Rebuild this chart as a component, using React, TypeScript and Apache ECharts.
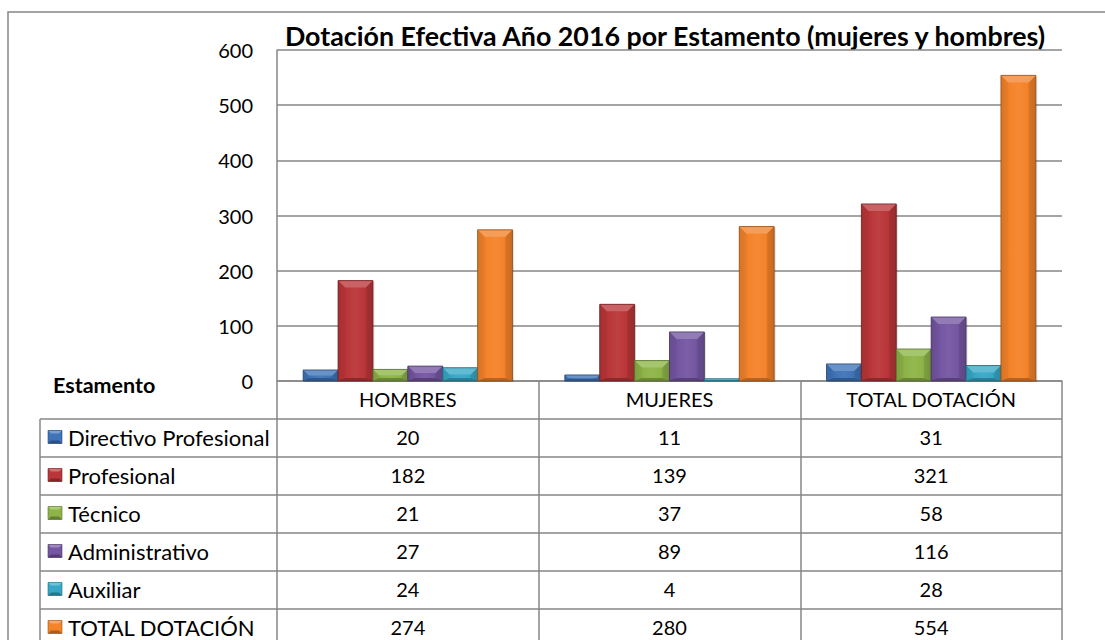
import React, { useEffect, useRef } from "react";
import * as echarts from "echarts";

const categories = ["HOMBRES", "MUJERES", "TOTAL DOTACIÓN"];
const seriesNames = ["Directivo Profesional", "Profesional", "Técnico", "Administrativo", "Auxiliar", "TOTAL DOTACIÓN"];
const directivoProfesional = [20, 11, 31];
const profesional = [182, 139, 321];
const tecnico = [21, 37, 58];
const administrativo = [27, 89, 116];
const auxiliar = [24, 4, 28];
const totalDotacion = [274, 280, 554];
const seriesValues = [directivoProfesional, profesional, tecnico, administrativo, auxiliar, totalDotacion];
const seriesColors = ["#3F74B8", "#BA3638", "#8DB447", "#7556A2", "#36A8C6", "#F4832A"];
const titleText = "Dotación Efectiva Año 2016 por Estamento (mujeres y hombres)";
const tableHeader = "Estamento";

const FONT = "Lato, 'Open Sans', sans-serif";
const GRID_COLOR = "#878787";

function shade(hex: string, f: number): string {
  const n = parseInt(hex.slice(1), 16);
  let r = (n >> 16) & 255, g = (n >> 8) & 255, b = n & 255;
  if (f < 0) {
    r = Math.round(r * (1 + f)); g = Math.round(g * (1 + f)); b = Math.round(b * (1 + f));
  } else {
    r = Math.round(r + (255 - r) * f); g = Math.round(g + (255 - g) * f); b = Math.round(b + (255 - b) * f);
  }
  return `rgb(${r},${g},${b})`;
}

function bodyGradient(c: string) {
  return new echarts.graphic.LinearGradient(0, 0, 1, 0, [
    { offset: 0, color: shade(c, -0.15) },
    { offset: 0.25, color: shade(c, 0) },
    { offset: 0.5, color: shade(c, 0.05) },
    { offset: 0.75, color: shade(c, 0) },
    { offset: 1, color: shade(c, -0.18) },
  ]);
}

const N_SERIES = seriesNames.length;

function makeRenderItem(si: number) {
  return (params: any, api: any) => {
    const cat = api.value(0);
    const val = api.value(1);
    const top = api.coord([cat, val]);
    const base = api.coord([cat, 0]);
    const band = api.size([1, 0])[0];
    const groupW = band * 0.8;
    const bw = groupW / N_SERIES;
    const x0 = top[0] - groupW / 2 + si * bw;
    const x1 = x0 + bw;
    const y0 = top[1];
    const y1 = base[1];
    const h = y1 - y0;
    const c = seriesColors[si];
    const bv = Math.min(7, h / 2, bw / 2);
    const bb = Math.min(3, h / 3);
    const children: any[] = [
      {
        type: "rect",
        shape: { x: x0 + 1.5, y: y0 + 1, width: bw, height: h },
        style: { fill: "rgba(0,0,0,0.12)" },
      },
      {
        type: "rect",
        shape: { x: x0, y: y0, width: bw, height: h },
        style: { fill: bodyGradient(c) },
      },
      {
        type: "polygon",
        shape: { points: [[x0, y0], [x1, y0], [x1 - bv, y0 + bv], [x0 + bv, y0 + bv]] },
        style: { fill: shade(c, 0.22) },
      },
      {
        type: "polygon",
        shape: { points: [[x0, y0], [x0 + bv, y0 + bv], [x0 + bv, y1 - bb], [x0, y1]] },
        style: { fill: shade(c, -0.08), opacity: 0.5 },
      },
      {
        type: "polygon",
        shape: { points: [[x1, y0], [x1 - bv, y0 + bv], [x1 - bv, y1 - bb], [x1, y1]] },
        style: { fill: shade(c, -0.2), opacity: 0.5 },
      },
      {
        type: "polygon",
        shape: { points: [[x0, y1], [x0 + bv, y1 - bb], [x1 - bv, y1 - bb], [x1, y1]] },
        style: { fill: shade(c, -0.25) },
      },
      {
        type: "rect",
        shape: { x: x0, y: y0, width: bw, height: h },
        style: { fill: "none", stroke: shade(c, -0.4), lineWidth: 0.8 },
      },
    ];
    return { type: "group", children };
  };
}

export default function App() {
  const ref = useRef<HTMLDivElement>(null);
  useEffect(() => {
    if (!ref.current) return;
    const chart = echarts.init(ref.current, undefined, { renderer: "svg" });
    const plotLeft = 277, plotRight = 1062, plotTop = 50, plotBottom = 381;
    const tableLeft = 40, rowH = 38, firstRowTop = 419;
    const colW = (plotRight - plotLeft) / categories.length;

    const graphics: any[] = [];
    graphics.push({
      type: "rect", shape: { x: 8, y: 12, width: 1200, height: 700 },
      style: { fill: "none", stroke: GRID_COLOR, lineWidth: 1.5 }, silent: true,
    });
    graphics.push({
      type: "text", x: 665, y: 36,
      style: { text: titleText, font: `bold 26.8px ${FONT}`, fill: "#000", align: "center", verticalAlign: "middle" },
    });
    graphics.push({
      type: "text", x: 53, y: 385,
      style: { text: tableHeader, font: `bold 21.5px ${FONT}`, fill: "#000", align: "left", verticalAlign: "middle" },
    });
    const nRows = seriesNames.length;
    for (let i = 0; i <= nRows; i++) {
      const y = firstRowTop + i * rowH;
      graphics.push({
        type: "line", shape: { x1: tableLeft, y1: y, x2: plotRight, y2: y },
        style: { stroke: GRID_COLOR, lineWidth: 1.5 }, silent: true,
      });
    }
    graphics.push({
      type: "line", shape: { x1: tableLeft, y1: firstRowTop, x2: tableLeft, y2: firstRowTop + nRows * rowH },
      style: { stroke: GRID_COLOR, lineWidth: 1.5 }, silent: true,
    });
    seriesNames.forEach((name, i) => {
      const cy = firstRowTop + i * rowH + rowH / 2 - 1;
      const c = seriesColors[i];
      const kx = 48, ky = cy - 6.5, kw = 14, kh = 13, kb = 3;
      graphics.push({
        type: "group",
        children: [
          { type: "rect", shape: { x: kx, y: ky, width: kw, height: kh }, style: { fill: c } },
          { type: "polygon", shape: { points: [[kx, ky], [kx + kw, ky], [kx + kw - kb, ky + kb], [kx + kb, ky + kb]] }, style: { fill: shade(c, 0.3) } },
          { type: "polygon", shape: { points: [[kx, ky + kh], [kx + kb, ky + kh - kb], [kx + kw - kb, ky + kh - kb], [kx + kw, ky + kh]] }, style: { fill: shade(c, -0.3) } },
          { type: "rect", shape: { x: kx, y: ky, width: kw, height: kh }, style: { fill: "none", stroke: shade(c, -0.35), lineWidth: 0.6 } },
        ],
      });
      graphics.push({
        type: "text", x: 68, y: cy,
        style: { text: name, font: `22px ${FONT}`, fill: "#000", align: "left", verticalAlign: "middle" },
      });
      seriesValues[i].forEach((v, j) => {
        graphics.push({
          type: "text", x: plotLeft + (j + 0.5) * colW, y: cy,
          style: { text: String(v), font: `20px ${FONT}`, fill: "#000", align: "center", verticalAlign: "middle" },
        });
      });
    });

    chart.setOption({
      animation: false,
      backgroundColor: "#fff",
      grid: { left: plotLeft, right: 1105 - plotRight, top: plotTop, bottom: 640 - plotBottom, containLabel: false },
      xAxis: {
        type: "category",
        data: categories,
        axisLine: { show: true, lineStyle: { color: GRID_COLOR, width: 1.5 } },
        axisTick: { show: true, length: 270, interval: 0, lineStyle: { color: GRID_COLOR, width: 1.5 } },
        axisLabel: { margin: 8, fontSize: 20, fontFamily: FONT, color: "#000", interval: 0 },
      },
      yAxis: {
        type: "value",
        min: 0, max: 600, interval: 100,
        axisLine: { show: true, lineStyle: { color: GRID_COLOR, width: 1.5 } },
        axisTick: { show: false },
        axisLabel: { margin: 24, fontSize: 20, fontFamily: FONT, color: "#000" },
        splitLine: { show: true, lineStyle: { color: GRID_COLOR, width: 1.5 } },
      },
      series: seriesNames.map((name, i) => ({
        type: "custom",
        name,
        data: seriesValues[i].map((v, j) => [j, v]),
        encode: { x: 0, y: 1 },
        renderItem: makeRenderItem(i),
        z: 3,
      })),
      graphic: graphics,
    });
    return () => chart.dispose();
  }, []);
  return <div ref={ref} style={{ position: "absolute", left: 0, top: 0, width: 1105, height: 640 }} />;
}
